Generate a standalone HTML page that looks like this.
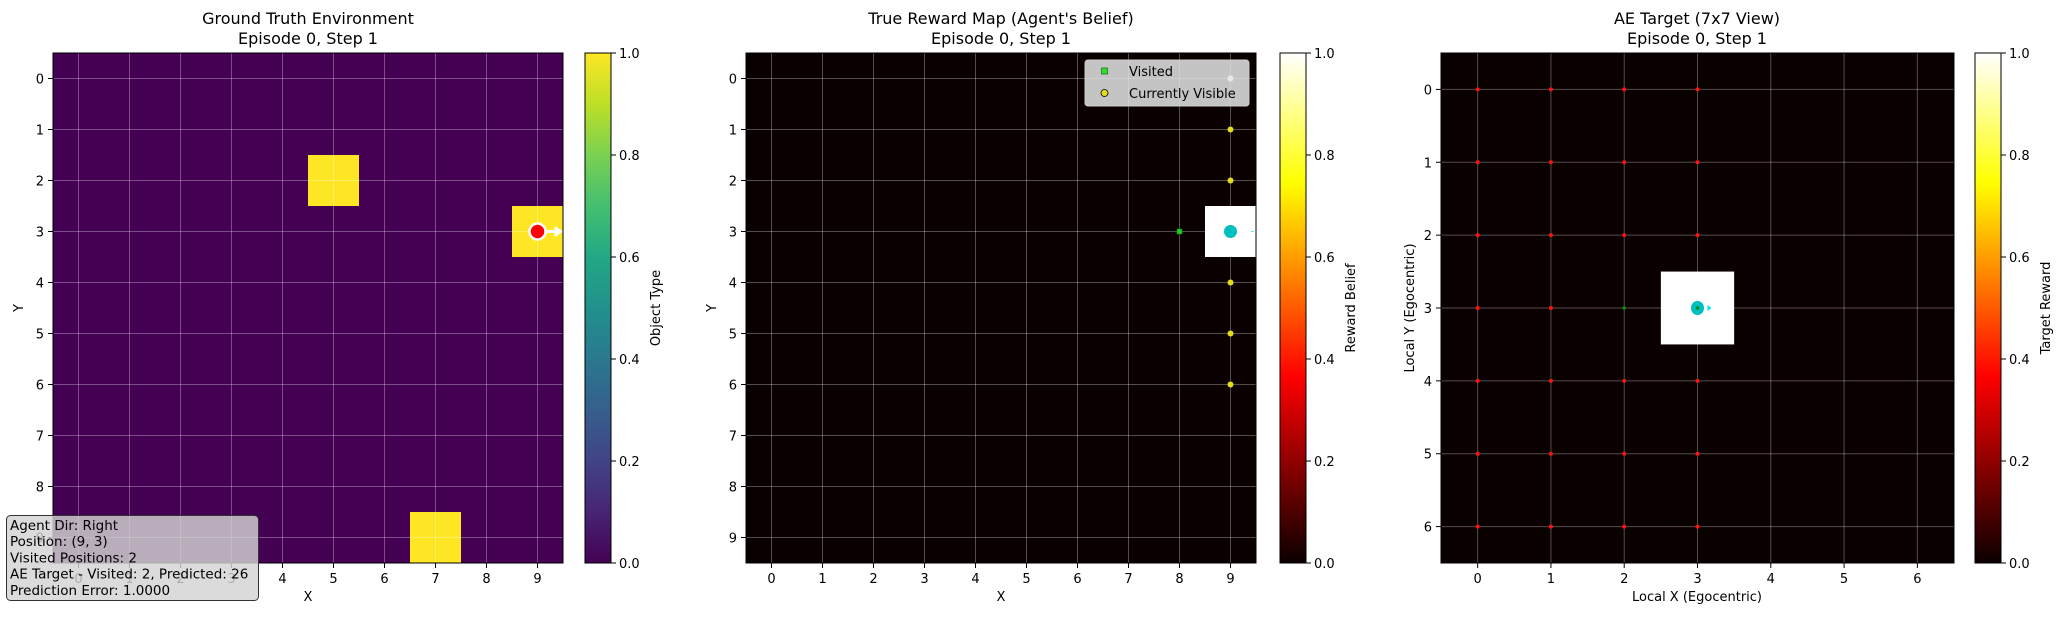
<!DOCTYPE html>
<html><head><meta charset="utf-8"><style>
body{margin:0;background:#fff;width:2061px;height:614px;overflow:hidden;font-family:"Liberation Sans","DejaVu Sans",sans-serif}
svg text{font-family:"DejaVu Sans","Liberation Sans",sans-serif;fill:#000}
</style></head><body>
<svg id="fig" width="2061" height="614" viewBox="0 0 2061 614" xmlns="http://www.w3.org/2000/svg">
<defs>
<linearGradient id="viridis" x1="0" y1="1" x2="0" y2="0">
<stop offset="0" stop-color="#440154"/><stop offset="0.1" stop-color="#482475"/><stop offset="0.2" stop-color="#414487"/><stop offset="0.3" stop-color="#355f8d"/><stop offset="0.4" stop-color="#2a788e"/><stop offset="0.5" stop-color="#21918c"/><stop offset="0.6" stop-color="#22a884"/><stop offset="0.7" stop-color="#44bf70"/><stop offset="0.8" stop-color="#7ad151"/><stop offset="0.9" stop-color="#bddf26"/><stop offset="1" stop-color="#fde725"/>
</linearGradient>
<linearGradient id="hot" x1="0" y1="1" x2="0" y2="0">
<stop offset="0" stop-color="#0b0000"/><stop offset="0.365" stop-color="#ff0000"/><stop offset="0.746" stop-color="#ffff00"/><stop offset="1" stop-color="#ffffff"/>
</linearGradient>
</defs>
</svg>
<script>
// Panel 1 data
const envSize = 10;
const objCellsX = [5, 9, 7];
const objCellsY = [2, 3, 9];
const agentPos = [9, 3];
// Panel 2 data
const visitedX = [8];
const visitedY = [3];
const visibleX = [9, 9, 9, 9, 9, 9];
const visibleY = [0, 1, 2, 4, 5, 6];
const visibleVal = [0.95, 0.8, 0.8, 0.8, 0.8, 0.8];
const beliefCellX = [9];
const beliefCellY = [3];
// Panel 3 data
const viewSize = 7;
const predX = [0,1,2,3, 0,1,2,3, 0,1,2,3, 0,1, 0,1,2,3, 0,1,2,3, 0,1,2,3];
const predY = [0,0,0,0, 1,1,1,1, 2,2,2,2, 3,3, 4,4,4,4, 5,5,5,5, 6,6,6,6];
const aeVisitedX = [2, 3];
const aeVisitedY = [3, 3];
const targetCellX = [3];
const targetCellY = [3];
const cbTicks = [0.0, 0.2, 0.4, 0.6, 0.8, 1.0];
const cbLabels = ["0.0", "0.2", "0.4", "0.6", "0.8", "1.0"];

const NS = "http://www.w3.org/2000/svg";
const svg = document.getElementById('fig');
function el(tag, attrs, parent, txt){
  const e = document.createElementNS(NS, tag);
  for (const k in attrs) e.setAttribute(k, attrs[k]);
  if (txt !== undefined) e.textContent = txt;
  (parent || svg).appendChild(e);
  return e;
}
function makeAxes(x0, y0, w, h, n, bg, name){
  const g = el('g', {});
  
  
  const sx = v => x0 + (v + 0.5) * w / n;
  const sy = v => y0 + (v + 0.5) * h / n;
  const bgR = el('rect', {x:x0, y:y0, width:w, height:h, fill:bg}, g);
  
  
  return {g, sx, sy, cw: w / n, ch: h / n, x0, y0, w, h, n};
}
function drawGridTicks(ax, name){
  const {g, sx, sy, x0, y0, w, h, n} = ax;
  for (let i = 0; i < n; i++){
    el('line', {x1:sx(i), x2:sx(i), y1:y0, y2:y0+h, stroke:'rgba(255,255,255,0.3)', 'stroke-width':1}, g);
    el('line', {x1:x0, x2:x0+w, y1:sy(i), y2:sy(i), stroke:'rgba(255,255,255,0.3)', 'stroke-width':1}, g);
    el('line', {x1:sx(i), x2:sx(i), y1:y0+h, y2:y0+h+5, stroke:'#000'}, g);
    el('line', {x1:x0-5, x2:x0, y1:sy(i), y2:sy(i), stroke:'#000'}, g);
    const tx = el('text', {x:sx(i), y:y0+h+20, 'font-size':13, 'text-anchor':'middle'}, g, String(i));
    
    
    const ty = el('text', {x:x0-9, y:sy(i)+5, 'font-size':13, 'text-anchor':'end'}, g, String(i));
    
    
  }
}
function frame(ax){
  el('rect', {x:ax.x0, y:ax.y0, width:ax.w, height:ax.h, fill:'none', stroke:'#000', 'stroke-width':1}, ax.g);
}
function colorbar(x, y0, h, grad, label, name){
  const g = el('g', {});
  
  
  el('rect', {x:x, y:y0, width:26, height:h, fill:'url(#' + grad + ')', stroke:'#000'}, g);
  cbTicks.forEach((t, i) => {
    const yy = y0 + h - t * h;
    el('line', {x1:x+26, x2:x+31, y1:yy, y2:yy, stroke:'#000'}, g);
    const lt = el('text', {x:x+34, y:yy+5, 'font-size':13}, g, cbLabels[i]);
    
    
  });
  const lb = el('text', {x:0, y:0, 'font-size':13, 'text-anchor':'middle', transform:'translate(' + (x+75) + ',' + (y0+h/2) + ') rotate(-90)'}, g, label);
  
  
}
function titles(cx, l1, l2, name){
  const t1 = el('text', {x:cx, y:24, 'font-size':16, 'text-anchor':'middle'}, svg, l1);
  
  
  const t2 = el('text', {x:cx, y:44, 'font-size':16, 'text-anchor':'middle'}, svg, l2);
  
  
}

// ---- Panel 1 ----
const a1 = makeAxes(53, 53, 510, 510, envSize, '#440154', 'ground-truth-axes');
objCellsX.forEach((cx, i) => {
  const r = el('rect', {x:a1.sx(cx)-a1.cw/2, y:a1.sy(objCellsY[i])-a1.ch/2, width:a1.cw, height:a1.ch, fill:'#fde725'}, a1.g);
  
  
});
drawGridTicks(a1, 'ground-truth');
{
  const ax = a1.sx(agentPos[0]), ay = a1.sy(agentPos[1]);
  const arr = el('path', {d:'M'+(ax+8)+','+ay+' L'+(ax+22)+','+ay+' M'+(ax+17)+','+(ay-4)+' L'+(ax+23)+','+ay+' L'+(ax+17)+','+(ay+4), stroke:'#fff', 'stroke-width':3, fill:'none'}, a1.g);
  
  
  const c = el('circle', {cx:ax, cy:ay, r:8, fill:'#ff0000', stroke:'#fff', 'stroke-width':2.5}, a1.g);
  
  
}
frame(a1);
titles(308, 'Ground Truth Environment', 'Episode 0, Step 1', 'ground-truth');
{
  const t = el('text', {x:308, y:601, 'font-size':13, 'text-anchor':'middle'}, svg, 'X');
   
  const t2 = el('text', {x:0, y:0, 'font-size':13, 'text-anchor':'middle', transform:'translate(23,308) rotate(-90)'}, svg, 'Y');
   
}
colorbar(585, 53, 510, 'viridis', 'Object Type', 'object-type-colorbar');
{
  const g = el('g', {});
  
  
  el('rect', {x:6.5, y:515.5, width:252, height:85, rx:4, fill:'rgba(211,211,211,0.82)', stroke:'#333', 'stroke-width':1}, g);
  const lines = ['Agent Dir: Right', 'Position: (9, 3)', 'Visited Positions: 2', 'AE Target - Visited: 2, Predicted: 26', 'Prediction Error: 1.0000'];
  lines.forEach((s, i) => {
    const t = el('text', {x:10, y:530 + i*16.2, 'font-size':13.5}, g, s);
    
    
  });
}

// ---- Panel 2 ----
const a2 = makeAxes(746, 53, 510, 510, envSize, '#0b0000', 'reward-map-axes');
beliefCellX.forEach((cx, i) => {
  const r = el('rect', {x:a2.sx(cx)-a2.cw/2, y:a2.sy(beliefCellY[i])-a2.ch/2, width:a2.cw, height:a2.ch, fill:'#ffffff'}, a2.g);
  
  
});
drawGridTicks(a2, 'reward-map');
visitedX.forEach((vx, i) => {
  const r = el('rect', {x:a2.sx(vx)-2.5, y:a2.sy(visitedY[i])-2.5, width:5, height:5, fill:'#22cc22', stroke:'#0a8a0a', 'stroke-width':0.6}, a2.g);
  
  
});
visibleX.forEach((vx, i) => {
  const c = el('circle', {cx:a2.sx(vx), cy:a2.sy(visibleY[i]), r:3, fill: visibleVal[i] > 0.9 ? '#fbf7c8' : '#e2dc1a'}, a2.g);
  
  
});
{
  const c = el('circle', {cx:a2.sx(agentPos[0]), cy:a2.sy(agentPos[1]), r:6.5, fill:'#00bfbf'}, a2.g);
  
  
  el('line', {x1:a2.sx(agentPos[0])+21, x2:a2.sx(agentPos[0])+23, y1:a2.sy(agentPos[1]), y2:a2.sy(agentPos[1]), stroke:'#00e5e5'}, a2.g);
}
{
  const g = el('g', {});
  
  
  el('rect', {x:1085, y:60, width:164, height:46, rx:3, fill:'rgba(230,230,230,0.85)', stroke:'#ccc'}, g);
  el('rect', {x:1101.5, y:68, width:6, height:6, fill:'#33dd33', stroke:'#0a700a', 'stroke-width':0.7}, g);
  el('circle', {cx:1104.5, cy:93, r:3.5, fill:'#e2dc1a', stroke:'#000', 'stroke-width':0.8}, g);
  const t1 = el('text', {x:1129, y:76, 'font-size':13}, g, 'Visited');
   
  const t2 = el('text', {x:1129, y:98, 'font-size':13}, g, 'Currently Visible');
   
}
frame(a2);
titles(1001, "True Reward Map (Agent's Belief)", 'Episode 0, Step 1', 'reward-map');
{
  const t = el('text', {x:1001, y:601, 'font-size':13, 'text-anchor':'middle'}, svg, 'X');
   
  const t2 = el('text', {x:0, y:0, 'font-size':13, 'text-anchor':'middle', transform:'translate(716,308) rotate(-90)'}, svg, 'Y');
   
}
colorbar(1280, 53, 510, 'hot', 'Reward Belief', 'reward-belief-colorbar');

// ---- Panel 3 ----
const a3 = makeAxes(1441, 53, 513, 510, viewSize, '#0b0000', 'ae-target-axes');
targetCellX.forEach((cx, i) => {
  const r = el('rect', {x:a3.sx(cx)-a3.cw/2, y:a3.sy(targetCellY[i])-a3.ch/2, width:a3.cw, height:a3.ch, fill:'#ffffff'}, a3.g);
  
  
});
drawGridTicks(a3, 'ae-target');
predX.forEach((px, i) => {
  const c = el('circle', {cx:a3.sx(px), cy:a3.sy(predY[i]), r:2, fill:'#ff1010'}, a3.g);
  
  
});
{
  const c = el('ellipse', {cx:a3.sx(agentPos[0]-6), cy:a3.sy(3), rx:6.5, ry:7, fill:'#00bfbf'}, a3.g);
  
  
  el('path', {d:'M'+(a3.sx(3)+10)+','+(a3.sy(3)-3)+' L'+(a3.sx(3)+14)+','+a3.sy(3)+' L'+(a3.sx(3)+10)+','+(a3.sy(3)+3)+'Z', fill:'#00e5e5'}, a3.g);
}
aeVisitedX.forEach((vx, i) => {
  const c = el('circle', {cx:a3.sx(vx), cy:a3.sy(aeVisitedY[i]), r:1.8, fill:'#0a8a0a'}, a3.g);
  
  
});
frame(a3);
titles(1697, 'AE Target (7x7 View)', 'Episode 0, Step 1', 'ae-target');
{
  const t = el('text', {x:1697, y:601, 'font-size':13, 'text-anchor':'middle'}, svg, 'Local X (Egocentric)');
   
  const t2 = el('text', {x:0, y:0, 'font-size':13, 'text-anchor':'middle', transform:'translate(1414,308) rotate(-90)'}, svg, 'Local Y (Egocentric)');
   
}
colorbar(1975, 53, 510, 'hot', 'Target Reward', 'target-reward-colorbar');
</script>
</body></html>
